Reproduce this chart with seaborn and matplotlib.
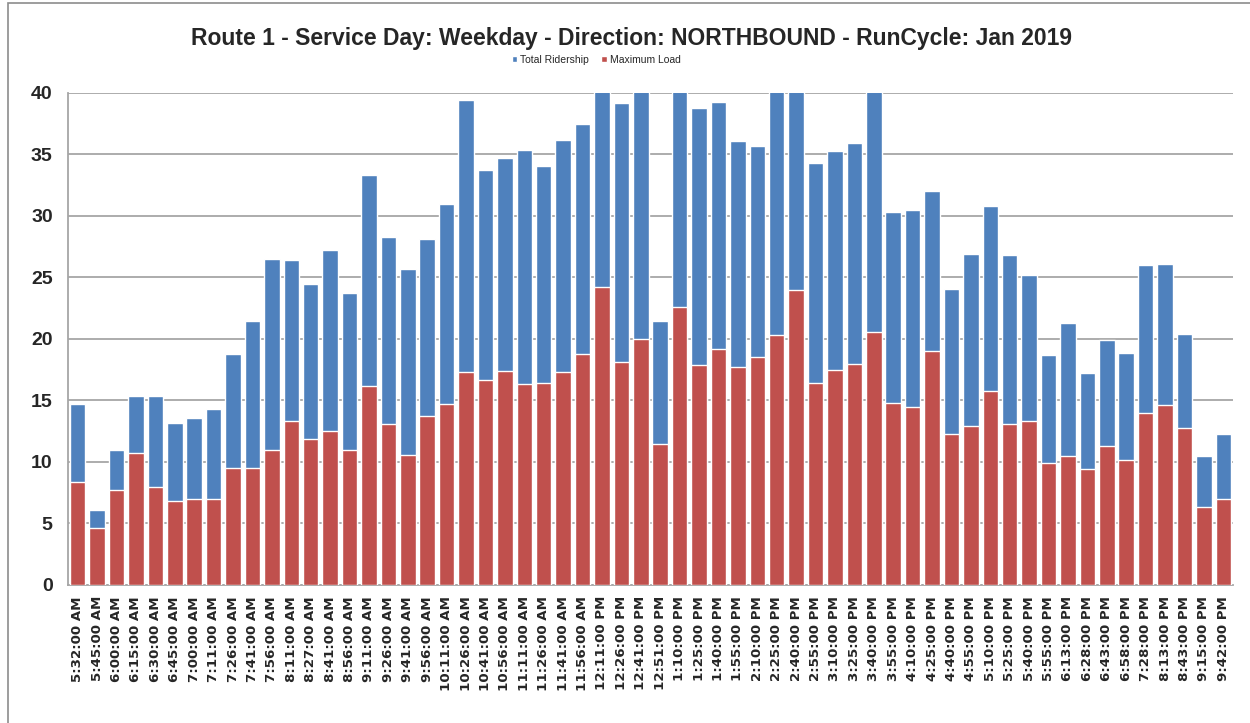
#!/usr/bin/env python3
import numpy as np
import pandas as pd
import matplotlib.pyplot as plt
import seaborn as sns
from matplotlib.patches import Rectangle

sns.set_style("white")
plt.rcParams['font.family'] = ['Liberation Sans', 'DejaVu Sans']

BLUE = "#4F81BD"   # total ridership
RED = "#C0504D"    # maximum load

trip_times = [
    "5:32:00 AM", "5:45:00 AM", "6:00:00 AM", "6:15:00 AM", "6:30:00 AM", "6:45:00 AM",
    "7:00:00 AM", "7:11:00 AM", "7:26:00 AM", "7:41:00 AM", "7:56:00 AM", "8:11:00 AM",
    "8:27:00 AM", "8:41:00 AM", "8:56:00 AM", "9:11:00 AM", "9:26:00 AM", "9:41:00 AM",
    "9:56:00 AM", "10:11:00 AM", "10:26:00 AM", "10:41:00 AM", "10:56:00 AM", "11:11:00 AM",
    "11:26:00 AM", "11:41:00 AM", "11:56:00 AM", "12:11:00 PM", "12:26:00 PM", "12:41:00 PM",
    "12:51:00 PM", "1:10:00 PM", "1:25:00 PM", "1:40:00 PM", "1:55:00 PM", "2:10:00 PM",
    "2:25:00 PM", "2:40:00 PM", "2:55:00 PM", "3:10:00 PM", "3:25:00 PM", "3:40:00 PM",
    "3:55:00 PM", "4:10:00 PM", "4:25:00 PM", "4:40:00 PM", "4:55:00 PM", "5:10:00 PM",
    "5:25:00 PM", "5:40:00 PM", "5:55:00 PM", "6:13:00 PM", "6:28:00 PM", "6:43:00 PM",
    "6:58:00 PM", "7:28:00 PM", "8:13:00 PM", "8:43:00 PM", "9:15:00 PM", "9:42:00 PM",
]

# values above 40 are cut off by the axis in the source chart (estimated)
total_ridership = [
    14.7, 6.1, 11.0, 15.4, 15.4, 13.2, 13.6, 14.3, 18.8, 21.5,
    26.5, 26.4, 24.5, 27.2, 23.7, 33.3, 28.3, 25.7, 28.1, 31.0,
    39.4, 33.7, 34.7, 35.4, 34.1, 36.2, 37.5, 42.0, 39.2, 41.0,
    21.5, 42.0, 38.8, 39.3, 36.1, 35.7, 41.0, 43.0, 34.3, 35.3,
    35.9, 41.0, 30.3, 30.5, 32.0, 24.1, 26.9, 30.8, 26.8, 25.2,
    18.7, 21.3, 17.2, 19.9, 18.9, 26.0, 26.1, 20.4, 10.5, 12.3,
]

maximum_load = [
    8.4, 4.6, 7.7, 10.7, 8.0, 6.8, 7.0, 7.0, 9.5, 9.5,
    11.0, 13.3, 11.9, 12.5, 11.0, 16.2, 13.1, 10.6, 13.7, 14.7,
    17.3, 16.7, 17.4, 16.3, 16.4, 17.3, 18.8, 24.2, 18.1, 20.0,
    11.5, 22.6, 17.9, 19.2, 17.7, 18.5, 20.3, 24.0, 16.4, 17.5,
    18.0, 20.6, 14.8, 14.5, 19.0, 12.3, 12.9, 15.8, 13.1, 13.3,
    9.9, 10.5, 9.4, 11.3, 10.2, 14.0, 14.6, 12.8, 6.3, 7.0,
]

df = pd.DataFrame({"Trip": trip_times,
                   "Total Ridership": total_ridership,
                   "Maximum Load": maximum_load})

fig = plt.figure(figsize=(12.5, 7.23), dpi=100)
ax = fig.add_axes([0.0544, 0.1909, 0.932, 0.6805])

# overlapping bars, red drawn on top of blue
sns.barplot(data=df, x="Trip", y="Total Ridership", color=BLUE, width=0.8,
            saturation=1, ax=ax, label="Total Ridership", zorder=2)
sns.barplot(data=df, x="Trip", y="Maximum Load", color=RED, width=0.8,
            saturation=1, ax=ax, label="Maximum Load", zorder=3)

ax.set_ylim(0, 40)
ax.set_xlim(-0.5, len(trip_times) - 0.5)
ax.set_yticks(range(0, 41, 5))
ax.yaxis.grid(True, color="#a6a6a6", linewidth=1.3, zorder=0)
ax.set_axisbelow(True)
for s in ["top", "right"]:
    ax.spines[s].set_visible(False)
for s in ["left", "bottom"]:
    ax.spines[s].set_color("#a6a6a6")
    ax.spines[s].set_linewidth(1.3)

ax.set_xlabel("")
ax.set_ylabel("")
ax.tick_params(axis="y", labelsize=14, length=5, color="#a6a6a6", pad=6)
for t in ax.get_yticklabels():
    t.set_fontweight("bold")
ax.set_xticks(range(len(trip_times)))
ax.set_xticklabels(trip_times, rotation=90, fontsize=9.6, fontweight="bold",
                   family=["DejaVu Sans"])
ax.tick_params(axis="x", which="major", length=0, pad=8)
ax.set_xticks(np.arange(-0.5, len(trip_times), 1), minor=True)
ax.tick_params(axis="x", which="minor", length=5, color="#a6a6a6", width=1)

fig.text(0.505, 0.947, "Route 1 - Service Day: Weekday - Direction: NORTHBOUND - RunCycle: Jan 2019",
         ha="center", va="center", fontsize=16.5, fontweight="bold")
ax.legend(loc="center", bbox_to_anchor=(0.477, 0.9175), bbox_transform=fig.transFigure,
          ncol=2, frameon=False, fontsize=7.5, handlelength=0.5, handleheight=0.6,
          handletextpad=0.3, columnspacing=1.2)

# chart area border
fig.patches.append(Rectangle((0.0064, -0.01), 1.0, 1.006, transform=fig.transFigure,
                             fill=False, edgecolor="#8c8c8c", linewidth=1.2))

fig.savefig("out.png", dpi=100)
